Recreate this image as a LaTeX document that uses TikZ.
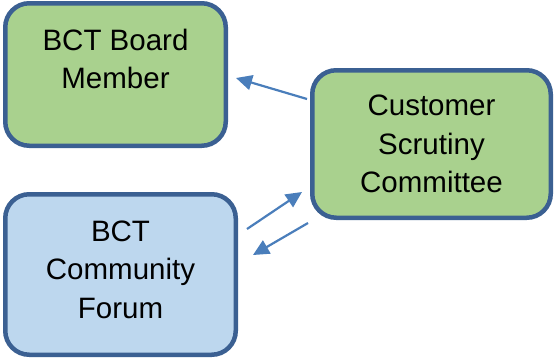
\documentclass[tikz,border=0pt]{standalone}
\usepackage{fontspec}
\setmainfont{Liberation Sans}
\usetikzlibrary{arrows.meta}
\definecolor{boxline}{HTML}{3B6092}
\definecolor{boxgreen}{HTML}{A9D18E}
\definecolor{boxblue}{HTML}{BDD7EE}
\definecolor{arrowblue}{HTML}{4A7EBB}
\tikzset{
  box/.style={draw=boxline, line width=4.5pt, rounded corners=24pt, align=center,
    font=\fontsize{29.5}{38.5}\selectfont},
  link/.style={draw=arrowblue, line width=2.2pt, -{Triangle[length=16pt,width=15pt]}}
}
\begin{document}
\begin{tikzpicture}[x=1pt,y=-1pt]
\useasboundingbox (0,0) rectangle (556,359);
% boxes
\node[box, fill=boxgreen, minimum width=220.5pt, minimum height=142.5pt, text depth=31pt] (board) at (115.5,74.5) {BCT Board\\Member};
\node[box, fill=boxgreen, minimum width=238.5pt, minimum height=147.5pt] (scrutiny) at (431.5,144) {Customer\\Scrutiny\\Committee};
\node[box, fill=boxblue, minimum width=230.5pt, minimum height=160.5pt, text depth=10pt] (forum) at (120.5,274.5) {BCT\\Community\\Forum};
% arrow ends
\coordinate (s1) at (307,99);  \coordinate (b1) at (236,78);
\coordinate (f2) at (247,229); \coordinate (s2) at (302,192);
\coordinate (s3) at (308,223); \coordinate (f3) at (253,255);
\draw[link] (s1) -- (b1);
\draw[link] (f2) -- (s2);
\draw[link] (s3) -- (f3);
\end{tikzpicture}
\end{document}
